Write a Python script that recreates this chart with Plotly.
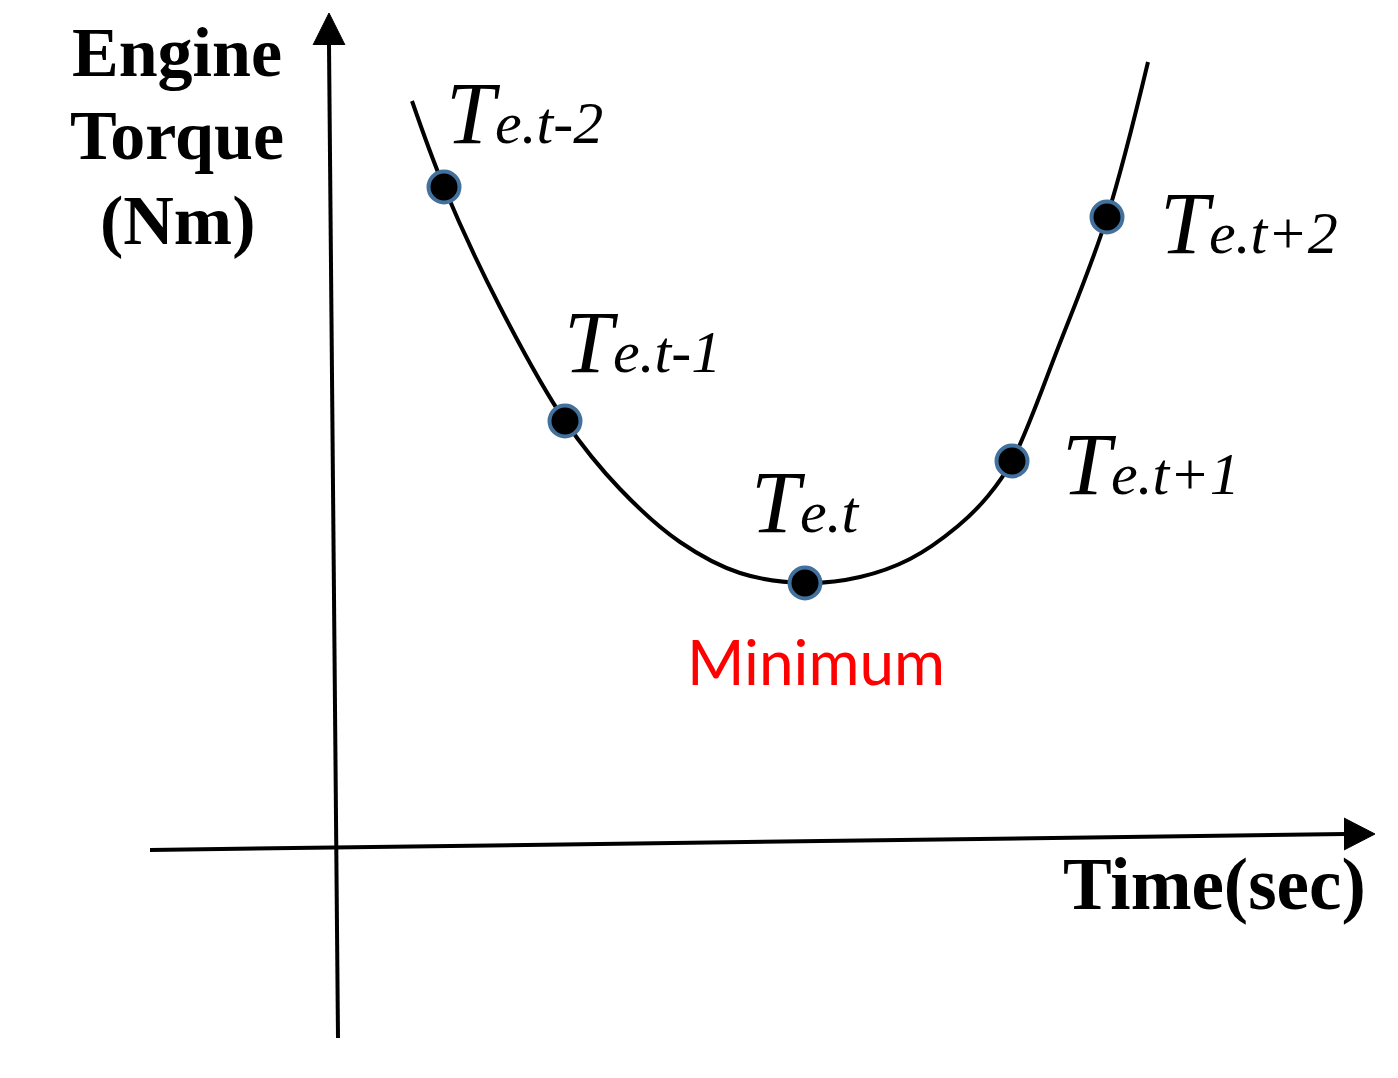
import plotly.graph_objects as go

# ---- data (in the chart's drawing units: x right, y down) ----
curve_x = [412, 444, 500, 565, 620, 680, 740, 805, 860, 910, 958, 988, 1012, 1058, 1107, 1148]
curve_y = [99, 185, 305, 419, 487, 540, 571, 581, 575, 557, 524, 494, 459, 346, 215, 60]

point_x = [444, 565, 805, 1012, 1107]
point_y = [185, 419, 581, 459, 215]
point_sub = ["e.t-2", "e.t-1", "e.t", "e.t+1", "e.t+2"]
label_x = [445, 563, 750, 1061, 1159]
label_base = [142, 371, 531, 493, 252]

yaxis_line_x = [338, 329]
yaxis_line_y = [1036, 43]
yaxis_head_x = [313, 329, 345]
yaxis_head_y = [43, 11, 43]
xaxis_line_x = [150, 1345]
xaxis_line_y = [848, 832]
xaxis_head_x = [1344, 1375, 1344]
xaxis_head_y = [816, 832, 848]

ytitle_lines = ["Engine", "Torque", "(Nm)"]
ytitle_base = [75, 158, 243]
ytitle_cx = 177
xtitle = "Time(sec)"
xtitle_pos = (1062, 908)
min_text = "Minimum"
min_pos = (686, 684)

W, H = 1398, 1078
OFF_X, OFF_Y = 8, 6  # page body offset of the plot div
fig = go.Figure()

# axes
fig.add_trace(go.Scatter(x=yaxis_line_x, y=yaxis_line_y, mode="lines",
                         line=dict(color="black", width=4), hoverinfo="skip"))
fig.add_trace(go.Scatter(x=yaxis_head_x, y=yaxis_head_y, mode="lines", fill="toself",
                         fillcolor="black", line=dict(color="black", width=1), hoverinfo="skip"))
fig.add_trace(go.Scatter(x=xaxis_line_x, y=xaxis_line_y, mode="lines",
                         line=dict(color="black", width=4), hoverinfo="skip"))
fig.add_trace(go.Scatter(x=xaxis_head_x, y=xaxis_head_y, mode="lines", fill="toself",
                         fillcolor="black", line=dict(color="black", width=1), hoverinfo="skip"))

# torque curve
fig.add_trace(go.Scatter(x=curve_x, y=curve_y, mode="lines",
                         line=dict(color="black", width=4, shape="spline", smoothing=1.0),
                         hoverinfo="skip"))
# sample points
fig.add_trace(go.Scatter(x=point_x, y=point_y, mode="markers",
                         marker=dict(size=31, color="black",
                                     line=dict(color="#41719C", width=4)),
                         hoverinfo="skip"))

serif = "Liberation Serif, Times New Roman, serif"
DESC = 0.216

for lx, lb, sub in zip(label_x, label_base, point_sub):
    fig.add_annotation(x=lx, y=lb, xref="x", yref="y", xanchor="left", yanchor="bottom",
                       showarrow=False, borderpad=0,
                       yshift=-(88 * DESC),
                       text="<i>T<span style='font-size:60px'>" + sub + "</span></i>",
                       font=dict(family=serif, size=88, color="black"))

for line, base in zip(ytitle_lines, ytitle_base):
    fig.add_annotation(x=ytitle_cx, y=base, xref="x", yref="y", xanchor="center", yanchor="bottom",
                       showarrow=False, borderpad=0, yshift=-(70 * DESC),
                       text="<b>" + line + "</b>",
                       font=dict(family=serif, size=70, color="black"))

fig.add_annotation(x=xtitle_pos[0], y=xtitle_pos[1], xref="x", yref="y", xanchor="left",
                   yanchor="bottom", showarrow=False, borderpad=0, yshift=-(74 * DESC),
                   text="<b>" + xtitle + "</b>",
                   font=dict(family=serif, size=73, color="black"))

fig.add_annotation(x=min_pos[0], y=min_pos[1], xref="x", yref="y", xanchor="left",
                   yanchor="bottom", showarrow=False, borderpad=0, yshift=-(62 * 0.2) - 1,
                   text=min_text,
                   font=dict(family="Lato, Liberation Sans, sans-serif", size=62, color="#FF0000"))

fig.update_layout(width=W, height=H, margin=dict(l=0, r=0, t=0, b=0),
                  paper_bgcolor="white", plot_bgcolor="white", showlegend=False,
                  xaxis=dict(range=[OFF_X, W + OFF_X], visible=False, fixedrange=True),
                  yaxis=dict(range=[H + OFF_Y, OFF_Y], visible=False, fixedrange=True))

fig.write_html("out.html")
